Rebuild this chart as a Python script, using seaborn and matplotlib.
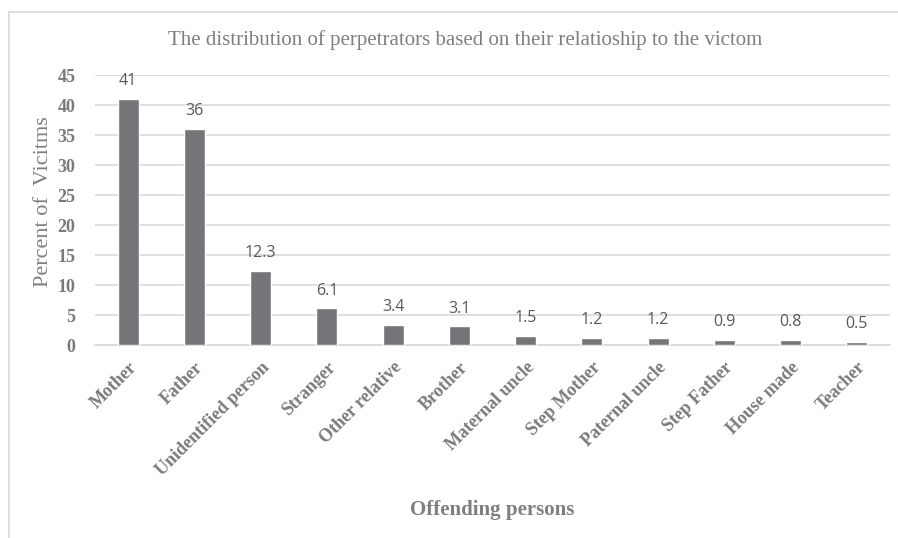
import matplotlib
matplotlib.use("Agg")
import matplotlib.pyplot as plt
import seaborn as sns
import pandas as pd
from matplotlib.patches import Rectangle

categories = ["Mother", "Father", "Unidentified person", "Stranger", "Other relative",
              "Brother", "Maternal uncle", "Step Mother", "Paternal uncle",
              "Step Father", "House made", "Teacher"]
percents = [41, 36, 12.3, 6.1, 3.4, 3.1, 1.5, 1.2, 1.2, 0.9, 0.8, 0.5]
value_labels = ["41", "36", "12.3", "6.1", "3.4", "3.1", "1.5", "1.2", "1.2", "0.9", "0.8", "0.5"]
y_ticks = [0, 5, 10, 15, 20, 25, 30, 35, 40, 45]

df = pd.DataFrame({"person": categories, "percent": percents})

sns.set_style("white")
plt.rcParams["font.family"] = ["Liberation Serif", "DejaVu Serif"]

text_gray = "#7f7f7f"
tick_gray = "#7a7a7a"

fig = plt.figure(figsize=(8.98, 5.38), dpi=100)
ax = fig.add_axes([95 / 898, 1 - 345 / 538, 795 / 898, 270 / 538])

sns.barplot(data=df, x="person", y="percent", color="#757579", width=0.32,
            saturation=1, ax=ax, zorder=3)

ax.set_ylim(0, 45)
ax.set_xlim(-0.5, len(categories) - 0.5)
ax.set_yticks(y_ticks)
ax.yaxis.grid(True, color="#d9d9d9", linewidth=1.2, zorder=0)
ax.set_axisbelow(True)
for s in ["top", "right", "left"]:
    ax.spines[s].set_visible(False)
ax.spines["bottom"].set_color("#d9d9d9")
ax.spines["bottom"].set_linewidth(1.2)
ax.tick_params(length=0)

for lbl in ax.get_yticklabels():
    lbl.set_fontweight("bold")
    lbl.set_fontsize(13)
    lbl.set_color(tick_gray)
ax.tick_params(axis="y", pad=14)

ax.set_xticks(range(len(categories)))
ax.set_xticklabels(categories, rotation=45, ha="right", va="top",
                   rotation_mode="anchor", fontweight="bold", fontsize=13,
                   color=tick_gray)
ax.tick_params(axis="x", pad=10)

for i, (v, t) in enumerate(zip(percents, value_labels)):
    ax.annotate(t, (i, v), xytext=(0, 7), textcoords="offset points",
                ha="center", va="bottom", fontsize=11.5, color="#595959",
                family=["Open Sans", "DejaVu Sans"])

ax.set_ylabel("Percent of  Vicitms", fontsize=16, color=text_gray)
ax.yaxis.set_label_coords(-42 / 795, 0.53)
ax.set_xlabel("")
fig.text(492 / 898, 1 - 510 / 538, "Offending persons", ha="center", va="center",
         fontsize=15, fontweight="bold", color=text_gray)
fig.text(465 / 898, 1 - 40 / 538,
         "The distribution of perpetrators based on their relatioship to the victom",
         ha="center", va="center", fontsize=15, color=text_gray)

# outer chart frame
fig.patches.append(Rectangle((9 / 898, -0.05), 1.0, 1 - 12 / 538 + 0.05,
                             transform=fig.transFigure, fill=False,
                             edgecolor="#d9d9d9", linewidth=1.2))

fig.savefig("out.png", dpi=100)
